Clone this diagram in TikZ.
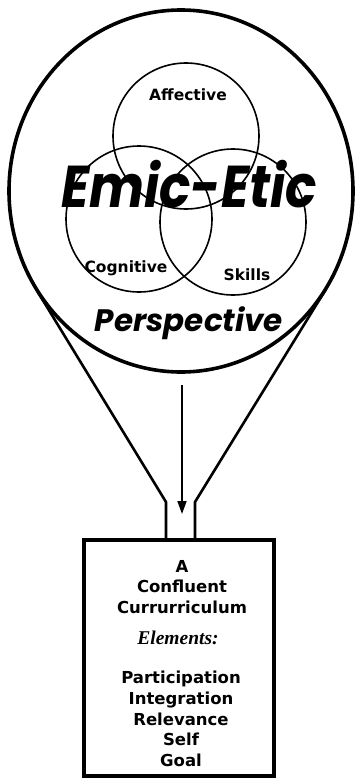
\documentclass[tikz,border=0pt]{standalone}
\usepackage{graphicx}
\usepackage{fontspec}
\setmainfont{DejaVu Sans}
\newfontfamily\geofont{Poppins}
\newfontfamily\serfont{Liberation Serif}
\usetikzlibrary{arrows.meta}
\tikzset{
  vennring/.style={circle, draw, line width=1.6pt, minimum size=146pt, inner sep=0pt},
  vennlabel/.style={font=\bfseries\fontsize{15.5}{16}\selectfont, inner sep=0pt},
  boxtext/.style={font=\bfseries\fontsize{16.5}{20.8}\selectfont, align=center, inner sep=0pt},
  funnel/.style={line width=2.6pt, line join=round},
}
\begin{document}
\begin{tikzpicture}[x=1pt, y=-1pt]
  \useasboundingbox (0,0) rectangle (358,781);

  % the outer perspective circle
  \coordinate (centre) at (181,191);
  \draw[line width=3.6pt] (centre) ellipse [x radius=172, y radius=181];

  % three overlapping domains
  \node[vennring] (affective) at (186,136) {};
  \node[vennring] (cognitive) at (139,219) {};
  \node[vennring] (skills)    at (233,222) {};
  \node[vennlabel] (afflabel) at (188,95)  {Affective};
  \node[vennlabel] (coglabel) at (126,268) {Cognitive};
  \node[vennlabel] (sklabel)  at (247,275) {Skills};

  \node[font=\geofont\bfseries\itshape\fontsize{59}{59}\selectfont, inner sep=0pt] (emic) at (189,184) {\scalebox{0.88}[1]{Emic-Etic}};
  \node[font=\geofont\bfseries\itshape\fontsize{31}{31}\selectfont, inner sep=0pt] (persp) at (189,323) {Perspective};

  % funnel down to the curriculum box
  \node[draw, line width=3.6pt, minimum width=190pt, minimum height=236pt, inner sep=0pt] (curbox) at (179,658) {};
  \coordinate (tanL) at (36,289);
  \coordinate (tanR) at (326,289);
  \coordinate (neckL) at (166,502);
  \coordinate (neckR) at (195,502);
  \draw[funnel] (tanL) -- (neckL) -- (neckL |- curbox.north);
  \draw[funnel] (tanR) -- (neckR) -- (neckR |- curbox.north);

  \coordinate (arrowtop) at (182,385);
  \coordinate (arrowtip) at (182,514);
  \draw[line width=1.8pt, -{Triangle[length=13pt, width=9pt]}] (arrowtop) -- (arrowtip);

  % box contents
  \node[boxtext] (title) at (182,587) {A\\Confluent\\Currurriculum};
  \node[font=\serfont\bfseries\itshape\fontsize{19.5}{19.5}\selectfont, inner sep=0pt] (elem) at (178,638) {Elements:};
  \node[boxtext] (items) at (181,719) {Participation\\Integration\\Relevance\\Self\\Goal};
\end{tikzpicture}
\end{document}
